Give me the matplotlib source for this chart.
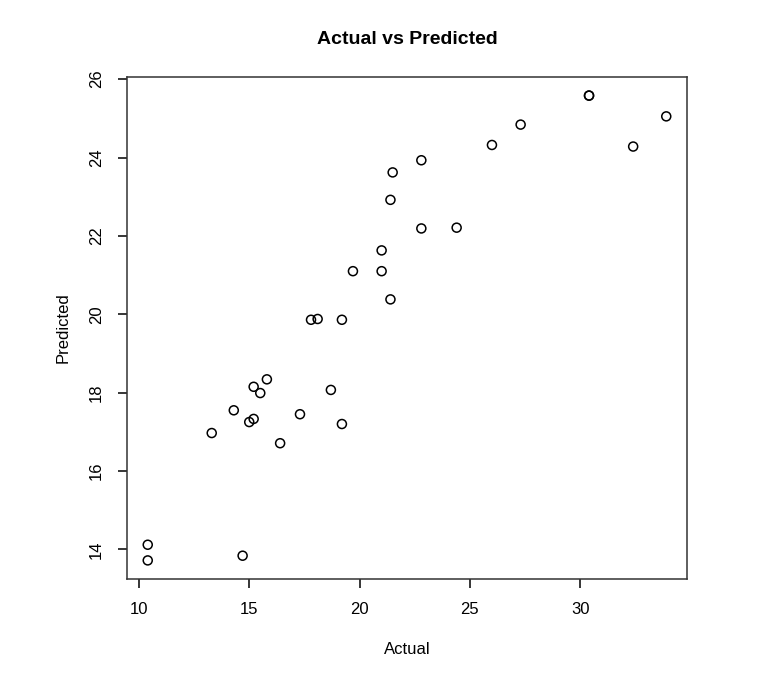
import matplotlib

matplotlib.use("Agg")
import matplotlib.pyplot as plt

plt.rcParams["font.family"] = ["Liberation Sans", "DejaVu Sans"]

# actual mpg and model predictions
actual = [10.4, 10.4, 14.7, 13.3, 14.3, 15.0, 15.2, 15.2, 15.5, 15.8,
          16.4, 17.3, 18.7, 17.8, 18.1, 19.2, 19.2, 19.7, 21.0, 21.0,
          21.4, 21.4, 21.5, 22.8, 22.8, 24.4, 26.0, 27.3, 30.4, 30.4,
          32.4, 33.9]
predicted = [14.12, 13.72, 13.84, 16.97, 17.55, 17.25, 17.33, 18.15, 17.99, 18.34,
             16.71, 17.45, 18.07, 19.86, 19.88, 19.86, 17.20, 21.10, 21.10, 21.63,
             20.38, 22.92, 23.62, 22.19, 23.93, 22.21, 24.32, 24.84, 25.58, 25.58,
             24.28, 25.05]
xticks = [10, 15, 20, 25, 30]
yticks = [14, 16, 18, 20, 22, 24, 26]

fig = plt.figure(figsize=(7.68, 6.77), dpi=100)
ax = fig.add_axes([127 / 768, 98 / 677, 560 / 768, 502 / 677])

ax.scatter(actual, predicted, s=42, facecolors="none", edgecolors="black", linewidths=1.1)

ax.margins(0.04)
ax.set_xticks(xticks)
ax.set_yticks(yticks)
ax.tick_params(direction="out", length=6.5, width=1.1, labelsize=12, pad=10)
for lbl in ax.get_yticklabels():
    lbl.set_rotation(90)
    lbl.set_va("center")
for s in ax.spines.values():
    s.set_linewidth(1.1)
    s.set_color("#333333")

ax.set_title("Actual vs Predicted", fontsize=14, fontweight="bold", pad=24)
ax.set_xlabel("Actual", fontsize=12, labelpad=18)
ax.set_ylabel("Predicted", fontsize=12, labelpad=13)

fig.savefig("out.png", dpi=100)
